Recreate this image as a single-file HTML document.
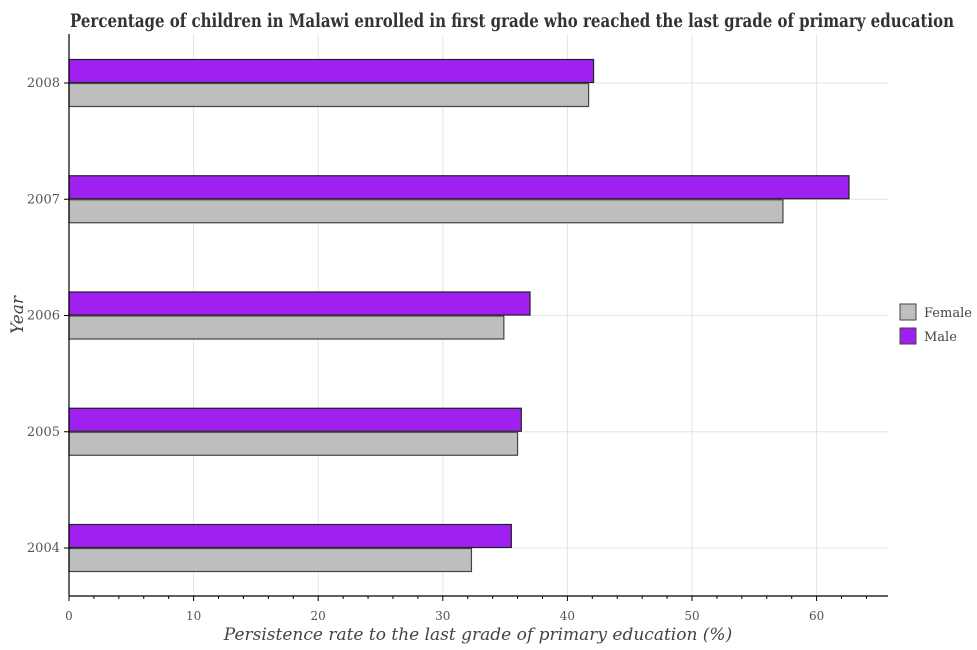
<!DOCTYPE html>
<html><head><meta charset="utf-8"><style>
html,body{margin:0;padding:0;background:#fff;width:977px;height:650px;overflow:hidden}
text{font-family:"DejaVu Serif","Liberation Serif",serif}
</style></head><body>
<svg id="chart" width="977" height="650" xmlns="http://www.w3.org/2000/svg">
<text x="70" y="27" font-family="Liberation Serif" font-weight="bold" font-size="19" fill="#333" textLength="884" lengthAdjust="spacingAndGlyphs">Percentage of children in Malawi enrolled in first grade who reached the last grade of primary education</text>
<g id="grid"></g><g id="bars"></g><g id="axes"></g>
<text x="478" y="640" text-anchor="middle" font-style="italic" font-size="17" fill="#444">Persistence rate to the last grade of primary education (%)</text>
<text transform="translate(23,315) rotate(-90)" text-anchor="middle" font-style="italic" font-size="17" fill="#444">Year</text>
<g>
<rect x="900" y="304" width="16" height="16" fill="#bebebe" stroke="#444"/>
<text x="924" y="317" font-size="13" fill="#444">Female</text>
<rect x="900" y="328" width="16" height="16" fill="#a020f0" stroke="#444"/>
<text x="924" y="341" font-size="13" fill="#444">Male</text>
</g>
</svg>
<script>
const years=["2004","2005","2006","2007","2008"];
const female=[32.3,36.0,34.9,57.3,41.7];
const male=[35.5,36.3,37.0,62.6,42.1];
const xTicks=[0,10,20,30,40,50,60];
const NS="http://www.w3.org/2000/svg";
const X0=69,SC=12.46,PT=34,PB=596,PR=888;
const xs=v=>X0+v*SC;
const yc=i=>548-i*116.25;
function mk(t,a,p){const e=document.createElementNS(NS,t);for(const k in a)e.setAttribute(k,a[k]);p.appendChild(e);return e;}
const g=document.getElementById('grid'),b=document.getElementById('bars'),ax=document.getElementById('axes');
for(let v=10;v<=60;v+=10){const l=mk('line',{x1:xs(v),x2:xs(v),y1:PT,y2:PB,stroke:'#e4e4e4'},g);

}
years.forEach((y,i)=>{const l=mk('line',{x1:X0,x2:PR,y1:yc(i),y2:yc(i),stroke:'#e4e4e4'},g);

});
years.forEach((y,i)=>{
const m=mk('rect',{x:X0,y:yc(i)-23.5,width:xs(male[i])-X0,height:23,fill:'#a020f0',stroke:'#222','stroke-width':1.2},b);


const f=mk('rect',{x:X0,y:yc(i)+0.5,width:xs(female[i])-X0,height:23,fill:'#bebebe',stroke:'#444','stroke-width':1.2},b);


const t=mk('text',{x:X0-9,y:yc(i)+4,'text-anchor':'end','font-size':13,fill:'#555'},ax);t.textContent=y;


mk('line',{x1:X0-5,x2:X0,y1:yc(i),y2:yc(i),stroke:'#000'},ax);
});
const xl=mk('line',{x1:X0,x2:PR,y1:PB,y2:PB,stroke:'#000','stroke-width':1.2},ax);


const yl=mk('line',{x1:X0,x2:X0,y1:PT,y2:PB,stroke:'#000','stroke-width':1.2},ax);


for(let v=0;v<=64;v+=2){mk('line',{x1:xs(v),x2:xs(v),y1:PB,y2:PB+(v%10?3:5),stroke:'#000'},ax);}
xTicks.forEach(v=>{const t=mk('text',{x:xs(v),y:PB+24,'text-anchor':'middle','font-size':12,fill:'#555'},ax);t.textContent=v;

});
</script>
</body></html>
